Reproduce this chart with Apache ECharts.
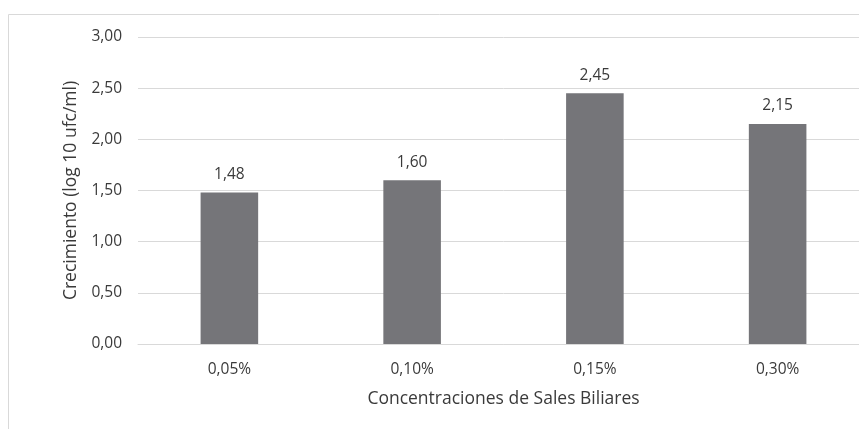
<!DOCTYPE html>
<html>
<head>
<meta charset="utf-8">
<script src="https://cdn.jsdelivr.net/npm/echarts@6/dist/echarts.min.js"></script>
<style>
  html, body { margin: 0; padding: 0; background: #fff; overflow: hidden; }
  #chart { width: 870px; height: 429px; }
</style>
</head>
<body>
<div id="chart"></div>
<script>
// datos del gráfico
const categories = ['0,05%', '0,10%', '0,15%', '0,30%'];
const values = [1.48, 1.60, 2.45, 2.15];
const yName = 'Crecimiento (log 10 ufc/ml)';
const xName = 'Concentraciones de Sales Biliares';

const fmt = v => v.toFixed(2).replace('.', ',');
const font = 'Open Sans, Liberation Sans, sans-serif';
const txt = '#3a3a3a';

const chart = echarts.init(document.getElementById('chart'));

const option = {
  animation: false,
  textStyle: { fontFamily: font },
  graphic: [{
    type: 'rect',
    shape: { x: 8.5, y: 14.5, width: 880, height: 440 },
    style: { fill: 'none', stroke: '#d9d9d9', lineWidth: 1 },
    silent: true
  }],
  grid: { left: 138, right: 1, top: 37, bottom: 85 },
  xAxis: {
    type: 'category',
    data: categories,
    name: xName,
    nameLocation: 'middle',
    nameGap: 46,
    nameTextStyle: { fontSize: 17.5, color: txt, fontFamily: font },
    axisLine: { lineStyle: { color: '#d9d9d9' } },
    axisTick: { show: false },
    axisLabel: { fontSize: 15.5, color: txt, margin: 18 }
  },
  yAxis: {
    type: 'value',
    min: 0,
    max: 3,
    interval: 0.5,
    name: yName,
    nameLocation: 'middle',
    nameGap: 57,
    nameTextStyle: { fontSize: 17.5, color: txt, fontFamily: font },
    axisLine: { show: false },
    axisTick: { show: false },
    axisLabel: { fontSize: 15.5, color: txt, margin: 16, formatter: fmt },
    splitLine: { lineStyle: { color: '#d9d9d9' } }
  },
  series: [{
    type: 'bar',
    data: values,
    barWidth: '31.5%',
    itemStyle: { color: '#757579' },
    label: {
      show: true,
      position: 'top',
      distance: 10,
      fontSize: 15.5,
      color: txt,
      formatter: p => fmt(p.value)
    }
  }]
};

chart.setOption(option);
</script>
</body>
</html>
